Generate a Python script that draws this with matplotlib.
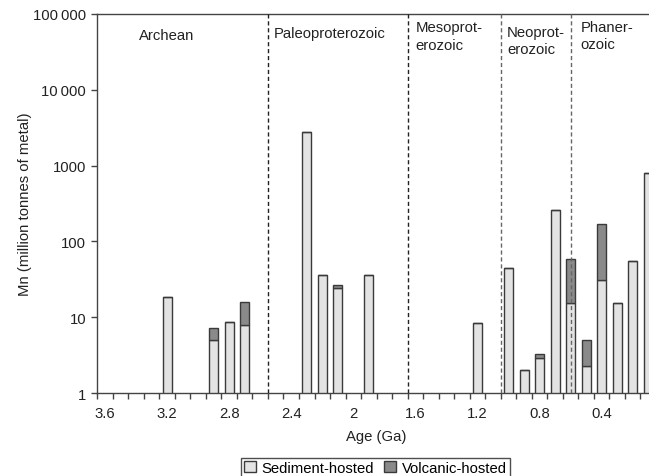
import numpy as np
import matplotlib
matplotlib.use("Agg")
import matplotlib.pyplot as plt
from matplotlib.patches import Patch

plt.rcParams['font.family'] = ['Liberation Sans', 'DejaVu Sans']
plt.rcParams['font.size'] = 10.7

# Mn endowment per 100 Myr age bin (bins labelled by age, Ga)
bar_ages = [3.2, 2.9, 2.8, 2.7, 2.3, 2.2, 2.1, 1.9, 1.2, 1.0, 0.9, 0.8,
            0.7, 0.6, 0.5, 0.4, 0.3, 0.2, 0.1]
sediment = [18.5, 5.0, 8.7, 8.0, 2800, 36, 24, 36, 8.3, 45, 2.0, 2.9,
            262, 15.2, 2.25, 30.7, 15.5, 55, 800]
volcanic = [0, 2.1, 0, 7.7, 0, 0, 2.6, 0, 0, 0, 0, 0.35,
            0, 43, 2.8, 140, 0, 0, 0]

tick_ages = [3.6, 3.2, 2.8, 2.4, 2.0, 1.6, 1.2, 0.8, 0.4]
tick_labels = ['3.6', '3.2', '2.8', '2.4', '2', '1.6', '1.2', '0.8', '0.4']

y_ticks = [1, 10, 100, 1000, 10000, 100000]
y_labels = ['1', '10', '100', '1000', '10\u2009000', '100\u2009000']

# era boundaries as drawn on the binned axis, and era names
era_lines = [2.55, 1.65, 1.05, 0.6]
era_line_colors = ['#222222', '#222222', '#666666', '#666666']
era_names = ['Archean', 'Paleoproterozoic', 'Mesoprot-\nerozoic',
             'Neoprot-\nerozoic', 'Phaner-\nozoic']
era_label_x = [3.2, 2.51, 1.60, 1.01, 0.535]
era_label_y = [0.945, 0.950, 0.942, 0.930, 0.944]
era_label_ha = ['center', 'left', 'left', 'left', 'left']

sed_color = '#e3e3e3'
vol_color = '#8a8a8a'
edge = '#3a3a3a'

fig = plt.figure(figsize=(6.49, 4.77), dpi=100)
ax = fig.add_axes([0.1498, 0.174, 0.8610, 0.7946])

ax.bar(bar_ages, sediment, width=0.058, color=sed_color, edgecolor=edge,
       linewidth=1.0, zorder=2)
ax.bar(bar_ages, volcanic, width=0.058, bottom=sediment, color=vol_color,
       edgecolor=edge, linewidth=1.0, zorder=2)

ax.set_yscale('log')
ax.set_ylim(1, 100000)
ax.set_xlim(3.65, 0.05)

for x, c in zip(era_lines, era_line_colors):
    ax.axvline(x, color=c, linewidth=1.0, linestyle=(0, (3, 2)), zorder=3)

for name, x, y, ha in zip(era_names, era_label_x, era_label_y, era_label_ha):
    ax.text(x, y, name, transform=ax.get_xaxis_transform(), ha=ha,
            va='center', fontsize=10.7, color='#222222', linespacing=1.3)

ax.set_yticks(y_ticks)
ax.set_yticklabels(y_labels)
ax.yaxis.set_minor_locator(matplotlib.ticker.NullLocator())
ax.tick_params(axis='y', which='major', direction='out', length=4,
               width=1, color='#444444', pad=4, labelcolor='#222222')

ax.set_xticks(tick_ages)
ax.set_xticklabels(tick_labels)
ax.set_xticks(np.arange(0.05, 3.7, 0.1), minor=True)
ax.tick_params(axis='x', which='major', length=0, pad=9, labelcolor='#222222')
ax.tick_params(axis='x', which='minor', direction='out', length=4,
               width=1, color='#444444')

for side in ['left', 'bottom', 'top']:
    ax.spines[side].set_color('#444444')
    ax.spines[side].set_linewidth(1.0)
ax.spines['right'].set_visible(False)

ax.set_xlabel('Age (Ga)', labelpad=7, color='#222222')
ax.set_ylabel('Mn (million tonnes of metal)', color='#222222')
ax.yaxis.set_label_coords(-0.117, 0.5)

handles = [Patch(facecolor=sed_color, edgecolor=edge, linewidth=1.0),
           Patch(facecolor=vol_color, edgecolor=edge, linewidth=1.0)]
leg = fig.legend(handles, ['Sediment-hosted', 'Volcanic-hosted'],
                 loc='lower center', bbox_to_anchor=(0.5786, -0.004), ncol=2,
                 frameon=True, fancybox=False, edgecolor='#222222',
                 handlelength=0.75, handleheight=0.75, handletextpad=0.4,
                 columnspacing=0.7, borderpad=0.2, borderaxespad=0.0)
leg.get_frame().set_linewidth(1.0)

fig.savefig('out.png', dpi=100)
